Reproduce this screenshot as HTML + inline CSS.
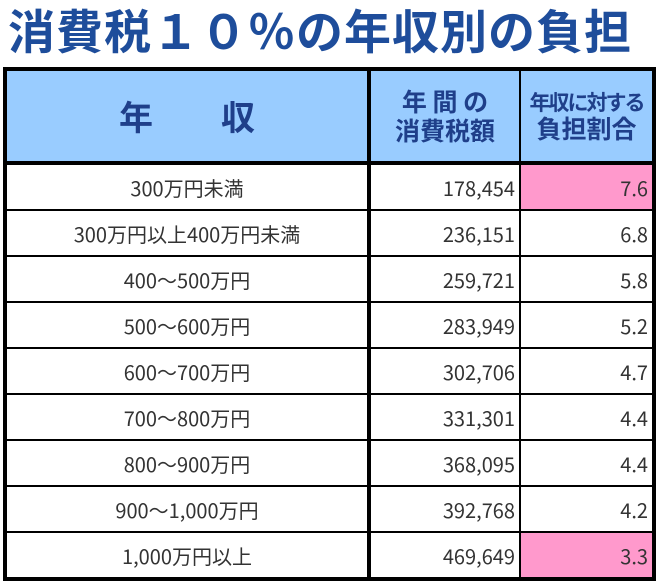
<!DOCTYPE html>
<html><head><meta charset="utf-8"><style>
body{margin:0;background:#fff;width:660px;height:585px;overflow:hidden;font-family:"Liberation Sans","Noto Sans CJK JP",sans-serif;}
.title{position:absolute;left:8px;top:-6px;font-size:47px;color:#1e4d9b;font-weight:bold;white-space:nowrap;letter-spacing:1px;font-family:"Noto Sans CJK JP",sans-serif;}
table{position:absolute;left:3px;top:67px;border-collapse:collapse;width:653px;border:4px solid #000;table-layout:fixed;}
td{border:2px solid #000;height:44px;padding:0 4px;font-size:20px;color:#333;font-family:"Noto Sans CJK JP",sans-serif;white-space:nowrap;}
td.c1{border-right:4px solid #000;text-align:center;width:352px;}
td.c2{text-align:right;width:140px;}
td.c3{text-align:right;}
tr.h td{background:#99ccff;color:#1f3f8a;height:90px;text-align:center;border-bottom:4px solid #000;font-weight:bold;line-height:1.15;}
.pink{background:#ff99cc;}
</style></head><body>
<div class="title">消費税１０％の年収別の負担</div>
<table>
<tr class="h"><td class="c1" style="font-size:34px;">年　　収</td><td class="c2" style="text-align:center;font-size:25px;">年 間 の<br>消費税額</td><td class="c3" style="text-align:center;font-size:21px;letter-spacing:-2px;padding:0;">年収に対する<br><span style="font-size:25px;letter-spacing:0">負担割合</span></td></tr>
<tr><td class="c1">300万円未満</td><td class="c2">178,454</td><td class="c3 pink">7.6</td></tr>
<tr><td class="c1">300万円以上400万円未満</td><td class="c2">236,151</td><td class="c3">6.8</td></tr>
<tr><td class="c1">400～500万円</td><td class="c2">259,721</td><td class="c3">5.8</td></tr>
<tr><td class="c1">500～600万円</td><td class="c2">283,949</td><td class="c3">5.2</td></tr>
<tr><td class="c1">600～700万円</td><td class="c2">302,706</td><td class="c3">4.7</td></tr>
<tr><td class="c1">700～800万円</td><td class="c2">331,301</td><td class="c3">4.4</td></tr>
<tr><td class="c1">800～900万円</td><td class="c2">368,095</td><td class="c3">4.4</td></tr>
<tr><td class="c1">900～1,000万円</td><td class="c2">392,768</td><td class="c3">4.2</td></tr>
<tr><td class="c1">1,000万円以上</td><td class="c2">469,649</td><td class="c3 pink">3.3</td></tr>
</table>
</body></html>
